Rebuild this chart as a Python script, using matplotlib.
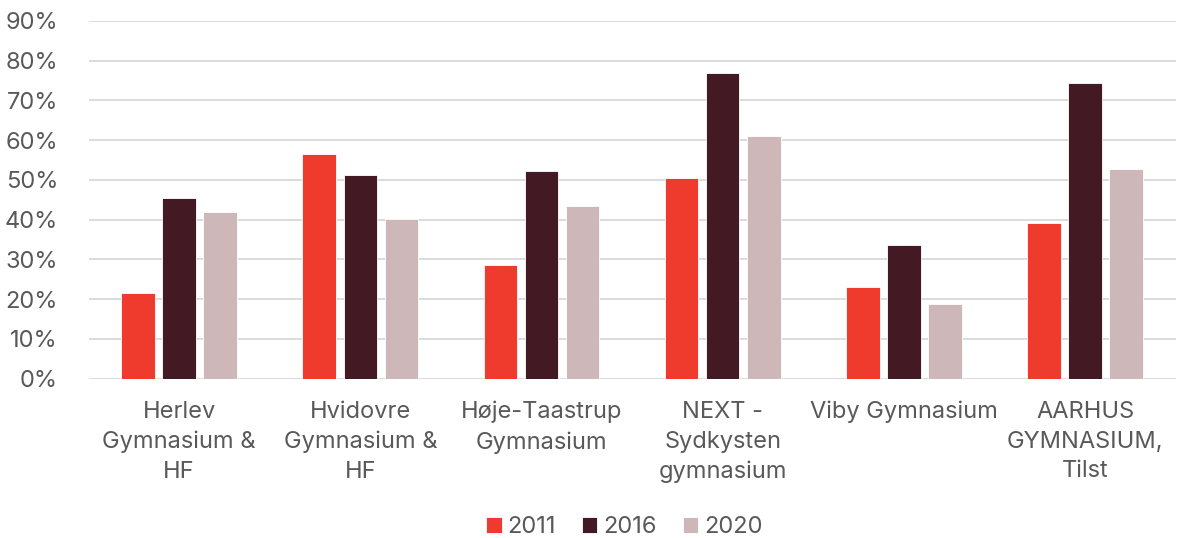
import numpy as np
import matplotlib
matplotlib.use('Agg')
from matplotlib import pyplot as plt
from matplotlib.ticker import PercentFormatter

schools = ['Herlev\nGymnasium &\nHF', 'Hvidovre\nGymnasium &\nHF', 'Høje-Taastrup\nGymnasium',
           'NEXT -\nSydkysten\ngymnasium', 'Viby Gymnasium', 'AARHUS\nGYMNASIUM,\nTilst']
years = ['2011', '2016', '2020']
v2011 = [21.6, 56.5, 28.6, 50.5, 23.1, 39.2]
v2016 = [45.5, 51.3, 52.3, 76.9, 33.7, 74.4]
v2020 = [42.0, 40.2, 43.5, 61.0, 18.8, 52.8]
colors = ['#EE3B2D', '#431A24', '#CDB7B9']

plt.rcParams['font.family'] = ['Inter', 'DejaVu Sans']
text_col = '#595959'
fs = 17

fig = plt.figure(figsize=(11.96, 5.38), dpi=100)
ax = fig.add_axes([0.074, 0.296, 0.909, 0.665])

x = np.arange(len(schools))
w = 0.185
step = 0.227
for i, (vals, yr) in enumerate(zip([v2011, v2016, v2020], years)):
    ax.bar(x + (i - 1) * step, vals, w, color=colors[i], label=yr,
           edgecolor='white', linewidth=0.6, zorder=3)

ax.set_xlim(-0.5, len(schools) - 0.5)
ax.set_ylim(0, 90)
ax.set_yticks(np.arange(0, 91, 10))
ax.yaxis.set_major_formatter(PercentFormatter(decimals=0))
ax.grid(axis='y', color='#D9D9D9', linewidth=1.3, zorder=0)
for s in ax.spines.values():
    s.set_visible(False)
ax.tick_params(axis='both', length=0, labelsize=fs, colors=text_col)
ax.tick_params(axis='y', pad=22)
ax.tick_params(axis='x', pad=16)
ax.set_xticks(x)
ax.set_xticklabels(schools, linespacing=1.45)

fig.legend(loc='center', bbox_to_anchor=(0.522, 0.02), ncol=3, frameon=False,
           fontsize=fs, labelcolor=text_col, handlelength=0.65, handleheight=0.65,
           handletextpad=0.25, columnspacing=1.1)

fig.savefig('out.png', dpi=100)
